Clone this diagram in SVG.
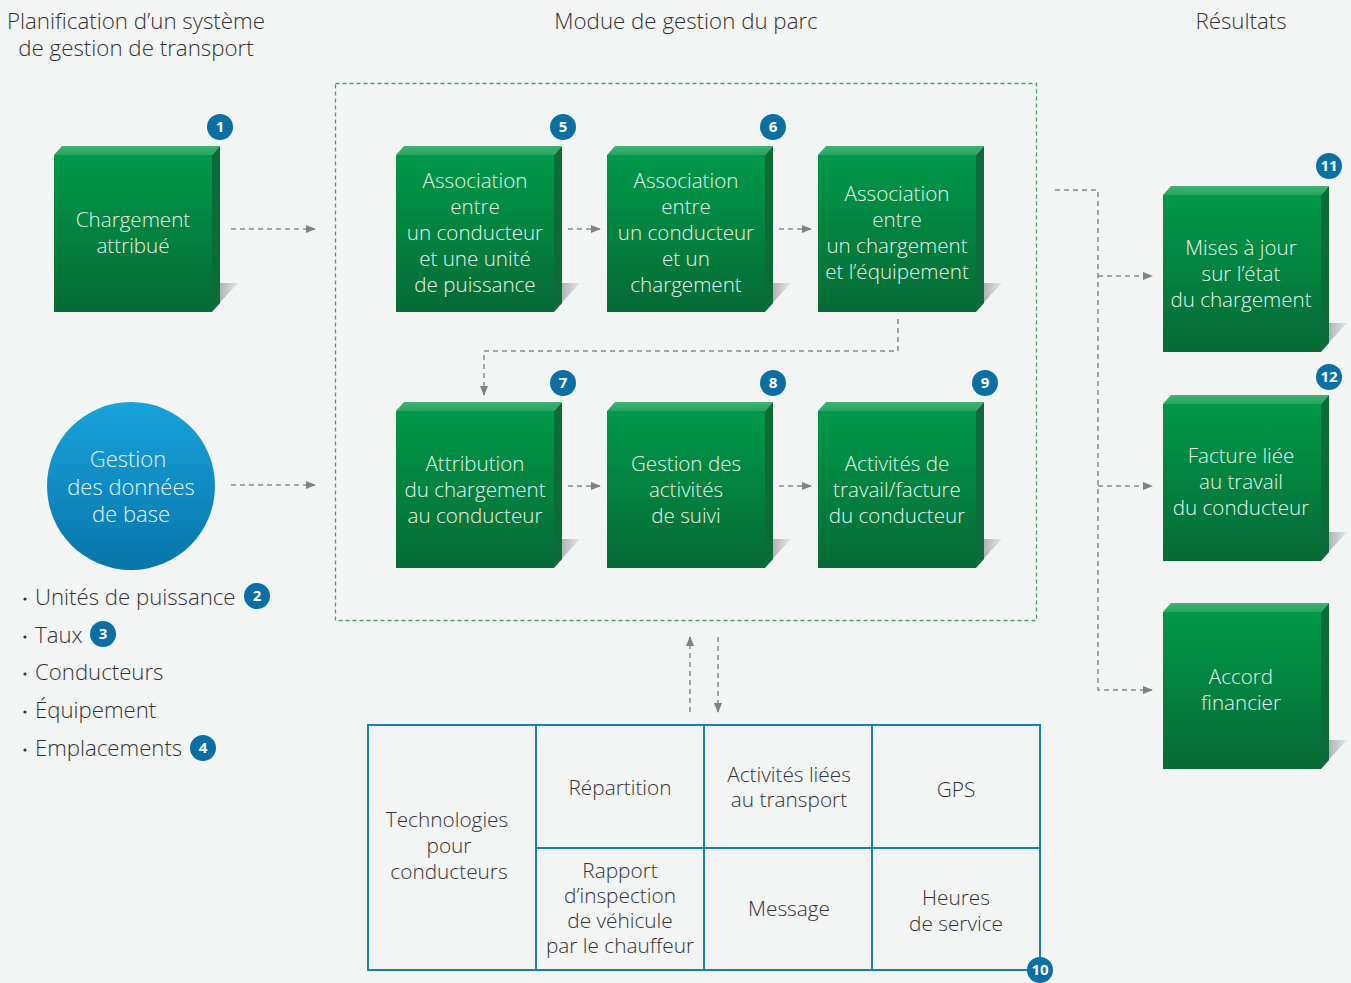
<svg xmlns="http://www.w3.org/2000/svg" width="1351" height="983" viewBox="0 0 1351 983">
  <defs>
    <linearGradient id="gFront" x1="0" y1="0" x2="0" y2="1">
      <stop offset="0" stop-color="#00994a"/>
      <stop offset="1" stop-color="#066a35"/>
    </linearGradient>
    <linearGradient id="gTop" x1="0" y1="0" x2="0" y2="1">
      <stop offset="0" stop-color="#3db372"/>
      <stop offset="1" stop-color="#28a462"/>
    </linearGradient>
    <linearGradient id="gShadow" x1="0" y1="0" x2="1" y2="0">
      <stop offset="0" stop-color="#9a9d9d"/>
      <stop offset="1" stop-color="#e6e8e8"/>
    </linearGradient>
    <linearGradient id="gCircle" x1="0" y1="0" x2="0" y2="1">
      <stop offset="0" stop-color="#18a3db"/>
      <stop offset="1" stop-color="#0875aa"/>
    </linearGradient>
    <marker id="arr" viewBox="0 0 10 10" refX="9" refY="5" markerWidth="10" markerHeight="10" markerUnits="userSpaceOnUse" orient="auto">
      <path d="M0,1 L10,5 L0,9 Z" fill="#7f8383"/>
    </marker>
    <!-- 3D green block, front face 158x157 at origin -->
    <g id="block">
      <polygon points="166,137 184,137 158,165 166,157" fill="url(#gShadow)"/>
      <rect x="0" y="9" width="158" height="157" fill="url(#gFront)"/>
      <polygon points="0,9 8,0 166,0 158,9" fill="url(#gTop)"/>
      <polygon points="158,9 166,0 166,157 158,166" fill="#0b6b39"/>
    </g>
  </defs>
  <style>
    .t { font-family: "Open Sans", "Liberation Sans", sans-serif; font-weight: 300; }
    .title { font-size: 22.3px; fill: #333; text-anchor: middle; }
    .bt { font-size: 20.6px; fill: #e8f4ec; text-anchor: middle; }
    .ct { font-size: 22px; fill: #e6f4fb; text-anchor: middle; }
    .li { font-size: 22.2px; fill: #333; }
    .gt { font-size: 20.8px; fill: #333; text-anchor: middle; }
    .dot { fill: #333; }
    .badge circle { fill: #0b6fa4; }
    .badge text { font-family: "Open Sans", "Liberation Sans", sans-serif; font-weight: 700; font-size: 15px; fill: #fff; text-anchor: middle; }
    .dash { fill: none; stroke: #8a8d8d; stroke-width: 1.5; stroke-dasharray: 5 4; }
    .grid { fill: none; stroke: #1a80b4; stroke-width: 2; }
  </style>

  <rect width="1351" height="983" fill="#f3f4f4"/>

  <!-- column headings -->
  <text class="t title" x="136" y="29">Planification d’un système</text>
  <text class="t title" x="136" y="56">de gestion de transport</text>
  <text class="t title" x="686" y="29">Modue de gestion du parc</text>
  <text class="t title" x="1241" y="29">Résultats</text>

  <!-- fleet module frame -->
  <rect x="335.5" y="83.5" width="701" height="537" fill="none" stroke="#3aa96a" stroke-width="1.3" stroke-dasharray="4 3"/>

  <!-- connectors -->
  <g id="connectors">
    <line class="dash" x1="231" y1="229" x2="315" y2="229" marker-end="url(#arr)"/>
    <line class="dash" x1="231" y1="485" x2="315" y2="485" marker-end="url(#arr)"/>
    <line class="dash" x1="568" y1="229" x2="600" y2="229" marker-end="url(#arr)"/>
    <line class="dash" x1="779" y1="229" x2="811" y2="229" marker-end="url(#arr)"/>
    <polyline class="dash" points="898,319 898,351 484,351 484,395" marker-end="url(#arr)"/>
    <line class="dash" x1="568" y1="486" x2="600" y2="486" marker-end="url(#arr)"/>
    <line class="dash" x1="779" y1="486" x2="811" y2="486" marker-end="url(#arr)"/>
    <polyline class="dash" points="1055,190 1098,190 1098,690 1152,690" marker-end="url(#arr)"/>
    <line class="dash" x1="1098" y1="276" x2="1152" y2="276" marker-end="url(#arr)"/>
    <line class="dash" x1="1098" y1="486" x2="1152" y2="486" marker-end="url(#arr)"/>
    <line class="dash" x1="690" y1="712" x2="690" y2="637" marker-end="url(#arr)"/>
    <line class="dash" x1="718" y1="637" x2="718" y2="712" marker-end="url(#arr)"/>
  </g>

  <!-- planning nodes -->
  <g id="n1">
    <use href="#block" x="54" y="146"/>
    <text class="t bt" x="133" y="227">Chargement</text>
    <text class="t bt" x="133" y="253">attribué</text>
    <g class="badge"><circle cx="220" cy="127" r="13"/><text x="220" y="132">1</text></g>
  </g>

  <g id="n-donnees">
    <circle cx="131" cy="486" r="84" fill="url(#gCircle)"/>
    <text class="t ct" x="128" y="467">Gestion</text>
    <text class="t ct" x="131" y="495">des données</text>
    <text class="t ct" x="131" y="522">de base</text>
  </g>

  <g id="n-liste">
    <circle class="dot" cx="25" cy="599" r="1.6"/><text class="t li" x="35" y="605">Unités de puissance</text>
    <g class="badge"><circle cx="257" cy="596" r="13"/><text x="257" y="601">2</text></g>
    <circle class="dot" cx="25" cy="637" r="1.6"/><text class="t li" x="35" y="643">Taux</text>
    <g class="badge"><circle cx="103" cy="634" r="13"/><text x="103" y="639">3</text></g>
    <circle class="dot" cx="25" cy="674" r="1.6"/><text class="t li" x="35" y="680">Conducteurs</text>
    <circle class="dot" cx="25" cy="712" r="1.6"/><text class="t li" x="35" y="718">Équipement</text>
    <circle class="dot" cx="25" cy="750" r="1.6"/><text class="t li" x="35" y="756">Emplacements</text>
    <g class="badge"><circle cx="203" cy="748" r="13"/><text x="203" y="753">4</text></g>
  </g>

  <!-- fleet module nodes -->
  <g id="n5">
    <use href="#block" x="396" y="146"/>
    <text class="t bt" x="475" y="188">Association</text>
    <text class="t bt" x="475" y="214">entre</text>
    <text class="t bt" x="475" y="240">un conducteur</text>
    <text class="t bt" x="475" y="266">et une unité</text>
    <text class="t bt" x="475" y="292">de puissance</text>
    <g class="badge"><circle cx="563" cy="127" r="13"/><text x="563" y="132">5</text></g>
  </g>

  <g id="n6">
    <use href="#block" x="607" y="146"/>
    <text class="t bt" x="686" y="188">Association</text>
    <text class="t bt" x="686" y="214">entre</text>
    <text class="t bt" x="686" y="240">un conducteur</text>
    <text class="t bt" x="686" y="266">et un</text>
    <text class="t bt" x="686" y="292">chargement</text>
    <g class="badge"><circle cx="773" cy="127" r="13"/><text x="773" y="132">6</text></g>
  </g>

  <g id="n-equipement">
    <use href="#block" x="818" y="146"/>
    <text class="t bt" x="897" y="201">Association</text>
    <text class="t bt" x="897" y="227">entre</text>
    <text class="t bt" x="897" y="253">un chargement</text>
    <text class="t bt" x="897" y="279">et l’équipement</text>
  </g>

  <g id="n7">
    <use href="#block" x="396" y="402"/>
    <text class="t bt" x="475" y="471">Attribution</text>
    <text class="t bt" x="475" y="497">du chargement</text>
    <text class="t bt" x="475" y="523">au conducteur</text>
    <g class="badge"><circle cx="563" cy="383" r="13"/><text x="563" y="388">7</text></g>
  </g>

  <g id="n8">
    <use href="#block" x="607" y="402"/>
    <text class="t bt" x="686" y="471">Gestion des</text>
    <text class="t bt" x="686" y="497">activités</text>
    <text class="t bt" x="686" y="523">de suivi</text>
    <g class="badge"><circle cx="773" cy="383" r="13"/><text x="773" y="388">8</text></g>
  </g>

  <g id="n9">
    <use href="#block" x="818" y="402"/>
    <text class="t bt" x="897" y="471">Activités de</text>
    <text class="t bt" x="897" y="497">travail/facture</text>
    <text class="t bt" x="897" y="523">du conducteur</text>
    <g class="badge"><circle cx="985" cy="383" r="13"/><text x="985" y="388">9</text></g>
  </g>

  <!-- result nodes -->
  <g id="n11">
    <use href="#block" x="1163" y="186"/>
    <text class="t bt" x="1241" y="255">Mises à jour</text>
    <text class="t bt" x="1241" y="281">sur l’état</text>
    <text class="t bt" x="1241" y="307">du chargement</text>
    <g class="badge"><circle cx="1329" cy="166" r="13"/><text x="1329" y="171">11</text></g>
  </g>

  <g id="n12">
    <use href="#block" x="1163" y="395"/>
    <text class="t bt" x="1241" y="463">Facture liée</text>
    <text class="t bt" x="1241" y="489">au travail</text>
    <text class="t bt" x="1241" y="515">du conducteur</text>
    <g class="badge"><circle cx="1329" cy="377" r="13"/><text x="1329" y="382">12</text></g>
  </g>

  <g id="n-accord">
    <use href="#block" x="1163" y="603"/>
    <text class="t bt" x="1241" y="684">Accord</text>
    <text class="t bt" x="1241" y="710">financier</text>
  </g>

  <!-- driver technologies table -->
  <g id="n10">
    <rect class="grid" x="368" y="725" width="672" height="245"/>
    <line class="grid" x1="536" y1="725" x2="536" y2="970"/>
    <line class="grid" x1="704" y1="725" x2="704" y2="970"/>
    <line class="grid" x1="872" y1="725" x2="872" y2="970"/>
    <line class="grid" x1="536" y1="848" x2="1040" y2="848"/>
    <text class="t gt" x="447" y="827">Technologies</text>
    <text class="t gt" x="449" y="853">pour</text>
    <text class="t gt" x="449" y="879">conducteurs</text>
    <text class="t gt" x="620" y="795">Répartition</text>
    <text class="t gt" x="789" y="782">Activités liées</text>
    <text class="t gt" x="789" y="807">au transport</text>
    <text class="t gt" x="956" y="797">GPS</text>
    <text class="t gt" x="620" y="878">Rapport</text>
    <text class="t gt" x="620" y="903">d’inspection</text>
    <text class="t gt" x="620" y="928">de véhicule</text>
    <text class="t gt" x="620" y="953">par le chauffeur</text>
    <text class="t gt" x="789" y="916">Message</text>
    <text class="t gt" x="956" y="905">Heures</text>
    <text class="t gt" x="956" y="931">de service</text>
    <g class="badge"><circle cx="1040" cy="970" r="13"/><text x="1040" y="975">10</text></g>
  </g>
</svg>
